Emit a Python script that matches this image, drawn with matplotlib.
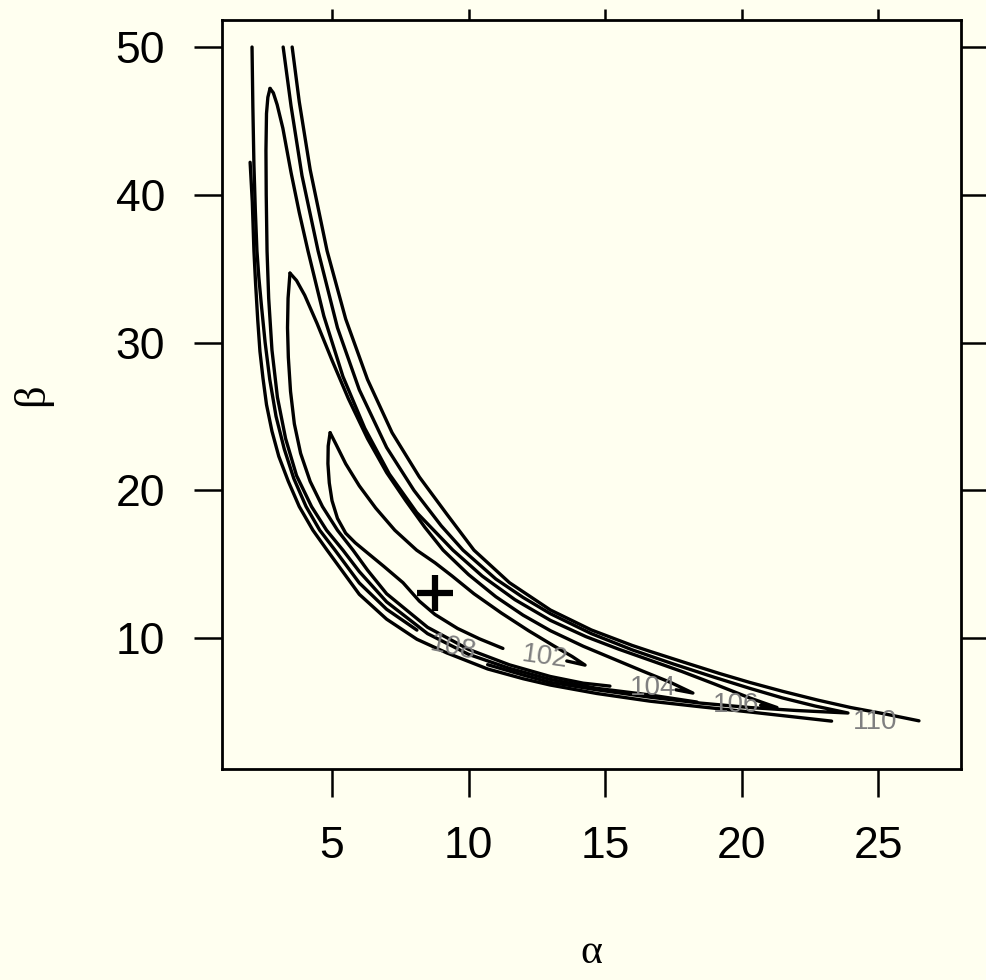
import matplotlib
matplotlib.use("Agg")
import matplotlib.pyplot as plt

# contour pieces: (alpha values, beta values)
c110_low = ([2.0, 2.08, 2.14, 2.2, 2.28, 2.36, 2.47, 2.6, 2.8, 3.05, 3.4, 3.8, 4.3, 4.82,
             6.0, 7.0, 8.11, 9.2, 10.7, 12.0, 13.0, 14.7, 16.65, 18.5, 20.3, 22.0, 23.3],
            [42.2, 39.5, 36.2, 34.0, 31.5, 29.4, 27.6, 25.8, 24.0, 22.3, 20.6, 18.9, 17.3, 15.95,
             12.96, 11.28, 9.92, 9.0, 7.91, 7.25, 6.82, 6.25, 5.73, 5.35, 5.0, 4.65, 4.38])
c110_up = ([3.54, 3.8, 4.2, 4.82, 5.5, 6.3, 7.2, 8.2, 9.2, 10.2, 11.5, 13.0, 14.5, 16.0,
            16.65, 18.0, 19.2, 20.3, 21.5, 22.8, 24.0, 25.3, 26.5],
           [50.0, 46.3, 41.7, 36.2, 31.6, 27.5, 23.9, 20.9, 18.4, 15.95, 13.75, 11.9, 10.55, 9.5,
            9.1, 8.3, 7.6, 7.0, 6.4, 5.8, 5.3, 4.85, 4.4])
c108_a = ([2.07, 2.1, 2.14, 2.19, 2.25, 2.32, 2.42, 2.55, 2.72, 2.95, 3.25, 3.6, 4.05,
           4.55, 5.11, 6.0, 7.0, 8.11],
          [50.0, 46.0, 42.0, 39.0, 36.2, 34.4, 32.4, 30.0, 27.5, 25.0, 22.8, 20.8, 18.9,
           17.3, 15.95, 13.73, 11.95, 10.54])
c108_b = ([10.7, 12.0, 13.0, 14.7, 16.65, 18.5, 20.3, 22.0, 23.9,
           22.7, 21.5, 20.3, 19.0, 17.5, 16.0, 14.5, 13.0, 12.0, 11.0, 9.8, 9.0, 8.0, 7.0,
           6.0, 5.2, 4.49, 3.9, 3.5, 3.21],
          [8.2, 7.5, 7.0, 6.5, 6.0, 5.6, 5.3, 5.1, 4.93,
           5.4, 5.95, 6.6, 7.35, 8.25, 9.2, 10.3, 11.65, 12.75, 14.0, 15.95, 17.6, 20.0, 22.9,
           26.8, 31.0, 36.2, 41.3, 46.0, 50.0])
c106_a = ([2.73, 2.65, 2.6, 2.58, 2.59, 2.62, 2.68, 2.8, 3.0, 3.3, 3.7, 4.25, 4.8, 5.4,
           6.0, 7.0, 8.5, 10.0, 11.5, 13.0, 14.7, 16.65, 18.37],
          [47.2, 46.6, 45.5, 43.0, 40.0, 36.2, 33.0, 29.5, 26.3, 23.5, 21.0, 18.9, 17.3, 15.95,
           14.5, 12.45, 10.3, 8.9, 7.95, 7.2, 6.6, 6.15, 5.67])
c106_b = ([20.7, 21.3, 20.3, 19.0, 17.8, 16.65, 15.5, 14.3, 13.0, 11.7, 10.5, 9.43, 8.1,
           7.1, 6.2, 5.4, 4.7, 4.12, 3.8, 3.5, 3.2, 2.99, 2.85, 2.73],
          [5.45, 5.3, 5.95, 6.9, 7.75, 8.5, 9.25, 10.1, 11.2, 12.6, 14.2, 15.95, 18.5,
           21.1, 24.2, 27.7, 31.8, 36.2, 38.8, 41.5, 44.5, 46.1, 46.9, 47.2])
c104_a = ([3.46, 3.39, 3.37, 3.4, 3.48, 3.62, 3.85, 4.2, 4.65, 5.2, 5.77, 6.3, 7.0, 8.5,
           10.0, 11.5, 13.0, 14.2, 15.18],
          [34.7, 33.0, 31.0, 29.0, 26.7, 24.5, 22.5, 20.6, 18.9, 17.3, 15.95, 14.6, 13.0, 10.73,
           9.24, 8.19, 7.4, 6.95, 6.75])
c104_b = ([17.6, 18.22, 17.4, 16.4, 15.3, 14.2, 13.0, 12.0, 11.0, 10.0, 9.07, 8.4, 7.7,
           7.0, 6.3, 5.6, 5.0, 4.45, 4.0, 3.7, 3.46],
          [6.5, 6.28, 7.0, 7.75, 8.6, 9.45, 10.5, 11.55, 12.8, 14.3, 15.95, 17.5, 19.3,
           21.2, 23.5, 26.2, 28.8, 31.3, 33.2, 34.2, 34.7])
c102_a = ([4.93, 4.86, 4.85, 4.9, 5.0, 5.2, 5.5, 5.85, 6.21, 6.9, 7.6, 8.2, 8.77,
           9.6, 10.4, 11.26],
          [23.9, 23.0, 21.8, 20.5, 19.3, 18.1, 17.1, 16.45, 15.9, 14.85, 13.75, 12.5, 11.6,
           10.65, 9.95, 9.3])
c102_b = ([13.6, 14.27, 13.8, 13.1, 12.2, 11.2, 10.2, 9.4, 8.77, 8.1, 7.3, 6.6, 6.0,
           5.5, 5.15, 4.93],
          [8.45, 8.17, 8.75, 9.5, 10.5, 11.7, 13.0, 14.2, 15.1, 15.95, 17.3, 18.8, 20.3,
           21.8, 23.1, 23.9])
pieces = [c110_low, c110_up, c108_a, c108_b, c106_a, c106_b,
          c104_a, c104_b, c102_a, c102_b]

label_text = ["108", "102", "104", "106", "110"]
label_alpha = [9.45, 12.8, 16.76, 19.8, 24.9]
label_beta = [9.3, 8.7, 6.6, 5.47, 4.3]
label_rot = [-12, -8, 0, 0, 0]

mle_alpha = [8.77]
mle_beta = [13.04]

bg = "#fffff0"
plt.rcParams["font.family"] = ["Liberation Sans", "DejaVu Sans"]

fig = plt.figure(figsize=(9.86, 9.80), dpi=100, facecolor=bg)
ax = fig.add_axes([222 / 986, 1 - 769 / 980, 739 / 986, 749 / 980])
ax.set_facecolor(bg)

for xs, ys in pieces:
    ax.plot(xs, ys, color="black", lw=2.4, solid_capstyle="round",
            solid_joinstyle="round")

for t, a, b, r in zip(label_text, label_alpha, label_beta, label_rot):
    ax.text(a, b, t, fontsize=20, color="#808080", ha="center", va="center",
            rotation=r)

ax.plot(mle_alpha, mle_beta, marker="+", markersize=26, mew=4.5,
        color="black", ls="none")

ax.set_xlim(0.97, 28.04)
ax.set_ylim(1.14, 51.83)
ax.set_xticks([5, 10, 15, 20, 25])
ax.set_yticks([10, 20, 30, 40, 50])
for s in ax.spines.values():
    s.set_linewidth(2.0)
ax.tick_params(axis="both", which="major", direction="out", length=20,
               width=1.8, labelsize=32, pad=21, top=True, right=True)
ax.tick_params(axis="x", which="major", top=True, labeltop=False)
for t in ax.xaxis.get_major_ticks():
    t.tick2line.set_markersize(8)

ax.set_xlabel("α", fontsize=30, family="Liberation Serif", labelpad=48)
ax.set_ylabel("β", fontsize=32, family="Liberation Serif", labelpad=46)

fig.savefig("out.png", dpi=100, facecolor=bg)
